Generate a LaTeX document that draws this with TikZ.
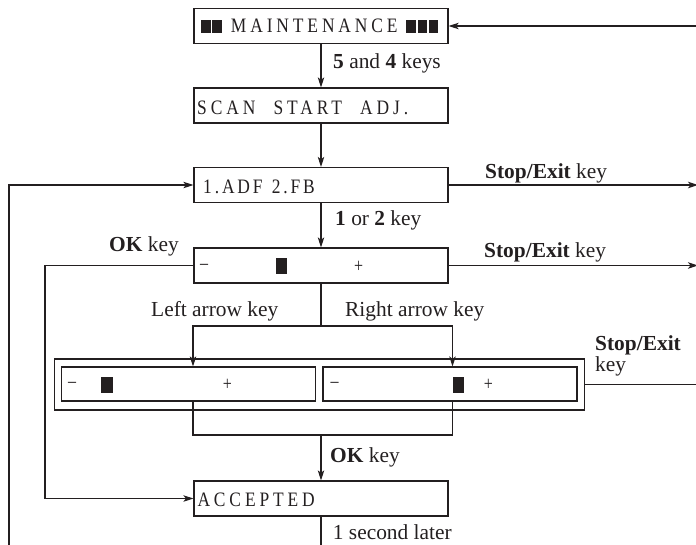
\documentclass[tikz,border=0pt]{standalone}
\usepackage{fontspec}
\setmainfont{Liberation Serif}
\newfontfamily\lcd[FakeStretch=0.85,LetterSpace=19]{Liberation Serif}
\newfontfamily\lcdn[FakeStretch=0.85,LetterSpace=14]{Liberation Serif}
\newfontfamily\lcdg[FakeStretch=0.8]{Liberation Serif}
\usetikzlibrary{arrows.meta}
\definecolor{ink}{HTML}{231F20}
\begin{document}
\begin{tikzpicture}[x=1pt,y=-1pt,
  box/.style={draw=ink,line width=1.3pt,minimum width=254pt,minimum height=35pt,inner sep=0pt},
  conn/.style={draw=ink,line width=1.1pt},
  arr/.style={conn,-{Stealth[length=10pt,width=6.5pt,inset=2.5pt]}},
  lbl/.style={anchor=base west,inner sep=0pt,text=ink,font={\fontsize{21.4}{21.4}\selectfont}},
  lcdtxt/.style={anchor=base west,inner sep=0pt,text=ink,font={\lcd\fontsize{20.5}{20.5}\selectfont}},
  lcdtxtn/.style={anchor=base west,inner sep=0pt,text=ink,font={\lcdn\fontsize{20.5}{20.5}\selectfont}},
  sym/.style={inner sep=0pt,text=ink,font={\lcdg\fontsize{20}{20}\selectfont}}]
\useasboundingbox (0,0) rectangle (696,544);

% boxes
\node[box] (maint) at (321,26) {};
\node[box] (scan) at (321,105.5) {};
\node[box] (adf) at (321,185) {};
\node[box] (slider) at (321,265.5) {};
\node[box,minimum width=530pt,minimum height=51pt] (outer) at (319.5,384.5) {};
\node[box,minimum height=34pt] (innerL) at (188.5,384) {};
\node[box,minimum height=34pt] (innerR) at (450,384) {};
\node[box] (acc) at (321,498.5) {};

% display texts
\fill[ink] (200.7,20) rectangle (210.7,32.5);
\fill[ink] (212.3,20) rectangle (221.7,32.5);
\node[lcdtxt] (tmaint) at (230.7,32.5) {MAINTENANCE};
\fill[ink] (406,20) rectangle (416,32.5);
\fill[ink] (417.7,20) rectangle (427.3,32.5);
\fill[ink] (429,20) rectangle (438.3,32.5);
\node[lcdtxt] (tscan) at (197,114.5) {SCAN\hspace{10pt} START\hspace{10pt} ADJ.};
\node[lcdtxtn] (tadf) at (203,193.5) {1.ADF\hspace{2pt} 2.FB};
\node[lcdtxt] (tacc) at (197.3,506) {ACCEPTED};

% slider contents
\node[sym] (sminus) at (204,266.7) {–};
\fill[ink] (275.7,257.7) rectangle (287.3,273.7);
\node[sym] (splus) at (358.7,266.7) {+};
\node[sym] (lminus) at (72.2,385) {–};
\fill[ink] (101.4,376.7) rectangle (112.9,392.7);
\node[sym] (lplus) at (227.5,385) {+};
\node[sym] (rminus) at (334.5,385) {–};
\fill[ink] (452.5,376.7) rectangle (464,392.7);
\node[sym] (rplus) at (488.4,385) {+};

% coordinates
\coordinate (etop) at (696,26);
\coordinate (e1) at (698,185);
\coordinate (e2) at (698,265.5);
\coordinate (e3) at (696,384.5);
\coordinate (sp) at (321,326);
\coordinate (jn) at (321,435);
\coordinate (okl) at (45,265.5);
\coordinate (bl) at (9,545.2);

% connectors
\draw[arr] (etop) -- (maint.east);
\draw[arr] (maint.south) -- (scan.north);
\draw[arr] (scan.south) -- (adf.north);
\draw[arr] (adf.south) -- (slider.north);
\draw[arr] (adf.east) -- (e1);
\draw[arr] (slider.east) -- (e2);
\draw[conn] (outer.east) -- (e3);
\draw[conn] (slider.south) -- (sp);
\draw[arr] (sp) -| ([xshift=4.5pt]innerL.north);
\draw[arr] (sp) -| ([xshift=2.5pt]innerR.north);
\draw[conn] ([xshift=4.5pt]innerL.south) |- (jn) -| ([xshift=2.5pt]innerR.south);
\draw[arr] (jn) -- (acc.north);
\draw[arr] (slider.west) -- (okl) |- (acc.west);
\draw[arr] (acc.south) |- (bl) |- (adf.west);

% labels
\node[lbl] (l54) at (333,68.3) {\textbf{5} and \textbf{4} keys};
\node[lbl] (lse1) at (485,178.5) {\textbf{Stop/Exit} key};
\node[lbl] (l12) at (335,225) {\textbf{1} or \textbf{2} key};
\node[lbl] (lok1) at (109,251.7) {\textbf{OK} key};
\node[lbl] (lse2) at (484,257.5) {\textbf{Stop/Exit} key};
\node[lbl] (lleft) at (151,316.7) {Left arrow key};
\node[lbl] (lright) at (345,316.7) {Right arrow key};
\node[lbl] (lse3a) at (595,350) {\textbf{Stop/Exit}};
\node[lbl] (lse3b) at (595,371) {key};
\node[lbl] (lok2) at (330,462) {\textbf{OK} key};
\node[lbl] (l1s) at (332.7,539) {1 second later};
\end{tikzpicture}
\end{document}
